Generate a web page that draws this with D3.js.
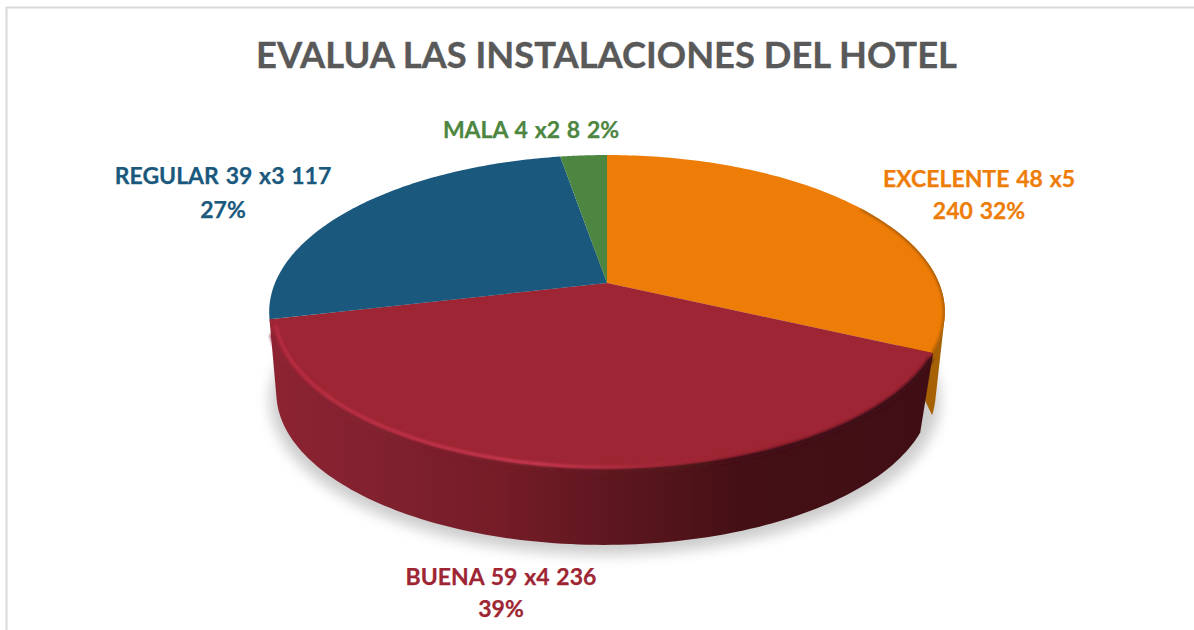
<!DOCTYPE html>
<html><head><meta charset="utf-8">
<script src="https://cdn.jsdelivr.net/npm/d3@7/dist/d3.min.js"></script>
<style>html,body{margin:0;padding:0;background:#fff}svg{display:block}text{font-family:Lato,"Open Sans",sans-serif;font-weight:700}</style>
</head><body><svg id="c" width="1194" height="630"></svg>
<script>
const title = "EVALUA LAS INSTALACIONES DEL HOTEL";
const categories = ["EXCELENTE","BUENA","REGULAR","MALA"];
const counts = [48,59,39,4];
const colors = ["#ee7d07","#9e2533","#1a587d","#4d8640"];
const labelLines = [["EXCELENTE 48 x5","240 32%"],["BUENA 59 x4 236","39%"],["REGULAR 39 x3 117","27%"],["MALA 4 x2 8 2%"]];
const labelPos = [[979,179,211],[501,577,609],[223,176,210],[531,130]];

const svg = d3.select("#c");
const defs = svg.append("defs");
const blur = (id,s)=>defs.append("filter").attr("id",id).attr("x","-20%").attr("y","-20%").attr("width","140%").attr("height","140%").append("feGaussianBlur").attr("stdDeviation",s);
blur("shadow",7);blur("soft",1.8);blur("soft2",1.0);

// frame
svg.append("path").attr("d","M6.5 630V7.5H1194").attr("fill","none").attr("stroke","#d9d9d9").attr("stroke-width",2);
svg.append("text").attr("x",606.5).attr("y",68).attr("text-anchor","middle").attr("font-size",36.35).attr("fill","#595959").attr("stroke","#595959").attr("stroke-width",0.35).text(title);

// perspective projection of the unit disc
const k=0.1847;
const proj=(cfg)=>(a)=>{const u=Math.sin(a),v=-Math.cos(a),d=1-k*v;return [cfg.cx+cfg.A*u/d,cfg.cy+cfg.B*v/d];};
const topP=proj({cx:607,cy:283,A:332,B:151.6});
const botP=proj({cx:604,cy:364.6,A:322,B:147});
const botOrange=proj({cx:606,cy:364.6,A:324,B:147});
const apexTop=[607,283];
const sweep=(a0,a1,n=120)=>d3.range(n+1).map(i=>a0+(a1-a0)*i/n);
const line=d3.line();
const pie=d3.pie().sort(null).value(d=>d)(counts);

// shadow
const all=sweep(0,2*Math.PI,240);
const shP=proj({cx:605,cy:372,A:329,B:149});
svg.append("path").attr("d",line(all.map(shP))+"Z").attr("fill","#000").attr("opacity",0.2).attr("filter","url(#shadow)");

// wall gradient
const g=defs.append("linearGradient").attr("id","wall").attr("gradientUnits","userSpaceOnUse").attr("x1",268).attr("x2",945).attr("y1",0).attr("y2",0);
[[0,"#8d2331"],[0.15,"#822130"],[0.35,"#741c27"],[0.52,"#5c161e"],[0.7,"#441015"],[1,"#3f0e14"]].forEach(s=>g.append("stop").attr("offset",s[0]).attr("stop-color",s[1]));

// walls: hull of the top and bottom rims between two angles
const wall=(a0,a1,botEnd,bot,fill)=>{
 svg.append("path").attr("d",line(d3.polygonHull([...sweep(a0,a1).map(topP),...sweep(a0,botEnd).map(bot)]))+"Z").attr("fill",fill);};
wall(1.15,pie[0].endAngle,1.9,botOrange,"#a66104");
wall(pie[1].startAngle,pie[1].endAngle,pie[1].endAngle,botP,"url(#wall)");

// top face
pie.forEach((p,i)=>{
 const aa=sweep(p.startAngle,p.endAngle);
 svg.append("path").attr("d",line([apexTop,...aa.map(topP)])+"Z").attr("fill",colors[i]);
});

// rim bevel: soft darkening of the edge, then a highlight fading to the right
const clip=defs.append("clipPath").attr("id","face");
clip.append("path").attr("d",line(all.map(topP))+"Z");
const rim=proj({cx:607,cy:285,A:332,B:151.6});
svg.append("path").attr("d",line(sweep(pie[1].startAngle+0.02,pie[1].endAngle-0.08).map(rim))).attr("fill","none").attr("stroke","url(#wall)").attr("stroke-width",5).attr("filter","url(#soft)");
const rimHi=defs.append("linearGradient").attr("id","rimHi").attr("gradientUnits","userSpaceOnUse").attr("x1",268).attr("x2",945).attr("y1",0).attr("y2",0);
[[0,"#bb2d44",0.85],[0.4,"#cb3a52",1],[0.62,"#b02c40",0.4],[0.78,"#9e2533",0]].forEach(s=>rimHi.append("stop").attr("offset",s[0]).attr("stop-color",s[1]).attr("stop-opacity",s[2]));
const inner=proj({cx:607,cy:283,A:326.5,B:150.2});
svg.append("path").attr("d",line(sweep(pie[1].startAngle+0.03,pie[1].endAngle-0.04).map(inner))).attr("fill","none").attr("stroke","url(#rimHi)").attr("stroke-width",3.2).attr("filter","url(#soft2)");
// dark soft rim along the orange slice
svg.append("g").attr("clip-path","url(#face)").append("path").attr("d",line(sweep(1.0,pie[0].endAngle).map(topP))).attr("fill","none").attr("stroke","#8a4f0a").attr("stroke-width",4).attr("opacity",0.6).attr("filter","url(#soft2)");

// labels
const fs=23;
pie.forEach((p,i)=>{
 const t=svg.append("text").attr("text-anchor","middle").attr("font-size",fs).attr("word-spacing",1.2).attr("fill",colors[i]).attr("stroke",colors[i]).attr("stroke-width",0.25);
 labelLines[i].forEach((s,j)=>t.append("tspan").attr("x",labelPos[i][0]).attr("y",labelPos[i][j+1]+8).text(s));
});
</script></body></html>
